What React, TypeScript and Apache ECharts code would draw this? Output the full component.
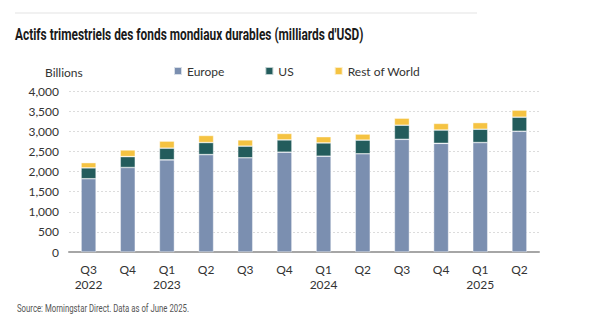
import React, { useEffect, useRef } from "react";
import * as echarts from "echarts";

const categories = ["Q3\n2022", "Q4", "Q1\n2023", "Q2", "Q3", "Q4", "Q1\n2024", "Q2", "Q3", "Q4", "Q1\n2025", "Q2"];
const europe = [1820, 2100, 2290, 2420, 2340, 2480, 2380, 2440, 2800, 2700, 2720, 3000];
const us = [270, 270, 290, 300, 290, 305, 330, 340, 350, 330, 330, 350];
const restOfWorld = [130, 165, 175, 175, 155, 160, 155, 150, 175, 165, 165, 175];
const seriesNames = ["Europe", "US", "Rest of World"];
const yTicks = { min: 0, max: 4000, interval: 500 };

const titleText = "Actifs trimestriels des fonds mondiaux durables (milliards d'USD)";
const sourceText = "Source: Morningstar Direct. Data as of June 2025.";

function measure(text: string, font: string): number {
  const t = new (echarts.graphic as any).Text({ style: { text, font } });
  return t.getBoundingRect().width || 1;
}

export default function App() {
  const ref = useRef<HTMLDivElement>(null);
  useEffect(() => {
    if (!ref.current) return;
    const chart = echarts.init(ref.current, undefined, { renderer: "svg" });
    const titleFont = "bold 17px Roboto";
    const srcFont = "10.5px Roboto";
    const titleScale = 349 / measure(titleText, titleFont);
    const srcScale = 172 / measure(sourceText, srcFont);
    const border = { borderColor: "rgba(255,255,255,0.7)", borderWidth: 0.6 };
    chart.setOption({
      animation: false,
      backgroundColor: "#ffffff",
      textStyle: { fontFamily: "Lato" },
      grid: { left: 69, right: 61, top: 91, bottom: 80 },
      legend: {
        data: seriesNames,
        left: 168,
        top: 60,
        icon: "rect",
        itemWidth: 8,
        itemHeight: 8,
        itemGap: 40,
        textStyle: { fontFamily: "Lato", fontSize: 12, color: "#333" },
      },
      graphic: [
        { type: "line", shape: { x1: 15, y1: 13, x2: 477, y2: 13 }, style: { stroke: "#e3e3e3", lineWidth: 1 } },
        {
          type: "text", x: 15, y: 34, scaleX: titleScale,
          style: { text: titleText, font: titleFont, fill: "#1a1a1a", verticalAlign: "middle", textAlign: "left" },
        },
        {
          type: "text", x: 17, y: 308, scaleX: srcScale,
          style: { text: sourceText, font: srcFont, fill: "#555", verticalAlign: "middle", textAlign: "left" },
        },
        {
          type: "text", x: 45, y: 72,
          style: { text: "Billions", font: "12px Lato", fill: "#333", verticalAlign: "middle", textAlign: "left" },
        },
      ],
      xAxis: {
        type: "category",
        data: categories,
        axisLine: { lineStyle: { color: "#a6a6a6", width: 2 } },
        axisTick: { show: false },
        axisLabel: { color: "#333", fontSize: 12, lineHeight: 15, margin: 10, fontFamily: "Lato" },
      },
      yAxis: {
        type: "value",
        min: yTicks.min,
        max: yTicks.max,
        interval: yTicks.interval,
        axisLine: { show: false },
        axisTick: { show: false },
        axisLabel: {
          color: "#333", fontSize: 12, margin: 10, fontFamily: "Lato",
          formatter: (v: number) => v.toLocaleString("en-US"),
        },
        splitLine: { lineStyle: { color: "#dcdcdc", type: [2, 2], width: 1 } },
      },
      series: [
        { name: seriesNames[0], type: "bar", stack: "t", data: europe, barWidth: 15, itemStyle: { color: "#7b8fb0", ...border } },
        { name: seriesNames[1], type: "bar", stack: "t", data: us, barWidth: 15, itemStyle: { color: "#235c5c", ...border } },
        { name: seriesNames[2], type: "bar", stack: "t", data: restOfWorld, barWidth: 15, itemStyle: { color: "#f5c342", ...border } },
      ],
    });
    return () => chart.dispose();
  }, []);
  return <div ref={ref} style={{ width: 600, height: 332, position: "absolute", left: 0, top: 0 }} />;
}
